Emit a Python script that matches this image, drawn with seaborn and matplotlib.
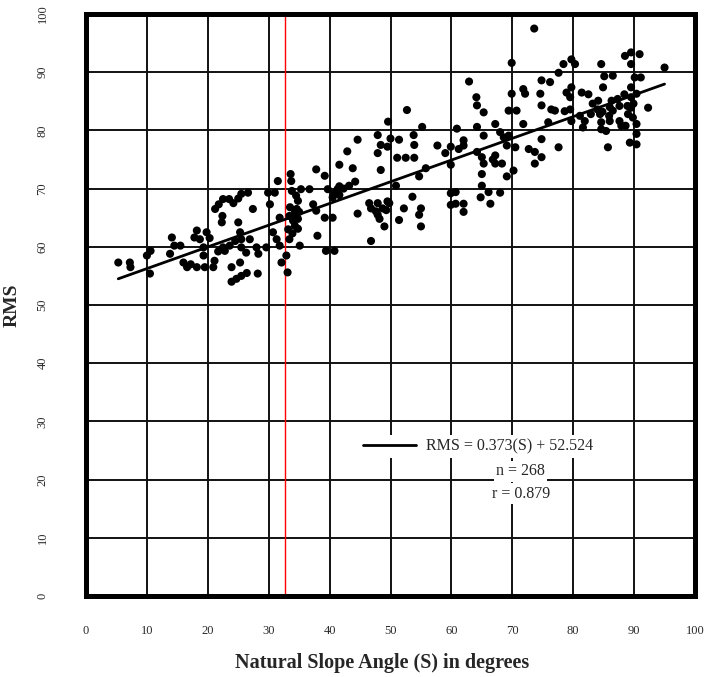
import numpy as np
import pandas as pd
import matplotlib
matplotlib.use("Agg")
import matplotlib.pyplot as plt
import seaborn as sns

# Natural slope angle (degrees) and measured RMS for each sample
slope_angle = [
    5.3, 7.2, 7.3, 10.0, 10.6, 10.5, 14.1, 14.5, 15.5, 13.8, 16.0, 16.6, 18.2, 19.5, 20.9, 21.1,
    17.8, 18.2, 18.7, 19.8, 19.3, 19.3, 21.2, 21.8, 22.5, 22.4, 22.3, 22.5, 23.5, 23.6, 23.9, 23.9,
    24.7, 25.5, 26.4, 28.2, 25.3, 25.0, 25.3, 25.5, 26.9, 25.5, 25.5, 26.6, 25.0, 24.2, 27.4, 28.0,
    28.3, 29.6, 29.9, 31.0, 30.2, 31.5, 30.7, 31.3, 31.8, 32.1, 32.9, 33.1, 31.8, 33.6, 33.7, 33.8,
    34.5, 34.8, 33.4, 34.3, 34.0, 34.8, 34.3, 33.4, 35.1, 34.8, 35.3, 36.7, 37.3, 37.8, 39.2, 40.5,
    38.0, 39.4, 40.8, 37.8, 39.2, 39.7, 40.5, 41.3, 40.8,
    52.7, 49.6, 55.2, 44.6, 47.9, 48.4, 50.0, 51.4, 53.8, 53.9, 47.9, 49.5, 51.1, 52.5, 53.9, 57.7,
    59.0, 59.9, 59.9, 42.9, 41.6, 43.8, 48.4, 55.8, 54.7, 50.9, 41.6, 43.2, 41.6, 46.5, 47.9, 46.8,
    47.6, 48.7, 49.5, 49.8, 44.6, 47.9, 53.6, 52.2, 55.0, 54.7, 51.4, 55.0, 49.0, 46.8, 59.9, 59.9,
    44.2, 42.3,
    69.9, 62.9, 64.1, 64.2, 65.3, 69.4, 70.7, 69.9, 71.8, 72.1, 74.8, 76.2, 74.6, 74.8, 75.9, 71.8,
    67.2, 60.9, 64.2, 65.3, 68.0, 68.6, 69.4, 62.0, 62.0, 69.1, 70.5, 74.8, 72.7, 73.7, 74.8, 73.7,
    64.2, 65.0, 65.3, 67.2, 67.2, 68.3, 65.0, 70.2, 69.1, 65.0, 64.8, 66.1, 68.0, 66.4, 60.7, 60.7,
    62.0, 62.0, 73.6,
    77.6, 85.7, 89.3, 90.4, 92.3, 95.0, 84.6, 77.6, 78.4, 79.7, 80.3, 86.5, 88.5, 89.5, 90.9, 89.5,
    90.1, 84.9, 81.4, 82.5, 78.9, 79.5, 79.5, 79.7, 77.0, 81.1, 81.9, 81.6, 84.1, 84.4, 84.6, 84.6,
    85.4, 86.0, 86.5, 86.3, 87.6, 87.6, 87.9, 89.5, 89.5, 89.5, 89.8, 90.4, 90.4,
    82.9, 84.0, 85.9, 85.1, 88.9, 91.1, 87.3, 88.4, 78.6, 79.7, 76.4,
    33.2, 33.5, 34.6, 33.9, 35.0, 21.7, 22.8, 26.3, 24.5, 17.2, 20.3, 89.0, 89.9, 88.6, 83.2, 86.0,
    84.8, 90.4, 49.3, 48.2, 66.8, 61.2,
]
rms_value = [
    57.3, 57.3, 56.5, 58.5, 59.3, 55.4, 61.6, 60.2, 60.2, 58.8, 57.3, 56.5, 56.5, 56.5, 56.5, 57.6,
    61.6, 62.8, 61.3, 62.5, 59.9, 58.5, 66.5, 67.3, 68.2, 65.3, 64.2, 59.9, 68.2, 60.2, 56.5, 54.0,
    54.5, 55.0, 55.5, 55.4, 57.3, 64.2, 62.5, 61.3, 61.3, 59.9, 69.1, 69.3, 68.3, 67.5, 66.5, 59.9,
    58.8, 59.9, 69.3, 69.3, 67.3, 71.3, 62.5, 61.3, 60.2, 57.3, 58.5, 55.6, 65.0, 72.5, 71.3, 69.6,
    68.8, 67.9, 65.3, 65.9, 64.5, 64.8, 63.6, 61.3, 60.2, 63.1, 69.9, 69.9, 67.3, 66.2, 65.0, 65.0,
    61.9, 59.3, 59.3, 73.3, 72.2, 69.9, 68.5, 69.9, 69.3,
    83.5, 81.5, 80.6, 78.4, 79.2, 77.5, 78.6, 78.4, 79.2, 77.5, 76.1, 77.2, 75.3, 75.3, 75.3, 77.4,
    76.1, 77.2, 74.1, 76.4, 74.1, 73.5, 73.2, 73.5, 72.1, 70.5, 70.4, 70.5, 68.9, 67.5, 67.5, 66.6,
    66.1, 66.6, 67.8, 67.5, 65.7, 65.5, 68.6, 66.6, 66.6, 65.5, 64.6, 63.5, 63.5, 61.0, 69.2, 67.2,
    71.2, 70.0,
    91.6, 88.4, 85.7, 84.3, 83.1, 83.4, 83.4, 86.3, 87.1, 86.3, 88.6, 88.3, 86.3, 84.3, 81.4, 81.1,
    81.1, 80.3, 80.6, 79.1, 79.7, 78.8, 79.1, 78.3, 77.4, 77.4, 77.1, 78.5, 76.8, 76.3, 75.4, 74.3,
    76.3, 75.4, 74.3, 75.7, 74.3, 74.3, 72.5, 73.1, 72.1, 70.5, 68.5, 69.4, 69.3, 67.4, 69.4, 67.4,
    67.4, 66.0, 97.5,
    77.1, 77.1, 77.9, 77.6, 83.9, 90.8, 91.4, 89.9, 91.4, 92.2, 91.4, 89.4, 92.8, 93.4, 93.1, 91.4,
    89.1, 87.4, 86.5, 86.2, 86.5, 85.7, 83.6, 81.6, 83.4, 82.5, 81.6, 80.5, 85.1, 82.8, 81.4, 80.2,
    79.9, 81.6, 83.4, 85.1, 84.2, 81.6, 80.8, 87.4, 85.7, 83.9, 82.2, 81.1, 79.4,
    82.8, 83.6, 82.5, 89.3, 84.2, 89.1, 85.4, 86.2, 83.3, 87.4, 83.6,
    63.0, 66.8, 66.5, 62.3, 66.0, 59.2, 59.3, 59.0, 61.0, 57.0, 61.5, 82.8, 84.6, 80.8, 84.6, 84.0,
    83.2, 86.3, 66.3, 64.8, 75.0, 76.8,
]

# Least-squares fit reported for the samples
fit_slope = 0.373
fit_intercept = 52.524
r_value = 0.879
reference_angle = 32.7
tick_values = list(range(0, 101, 10))

df = pd.DataFrame({"slope": slope_angle, "rms": rms_value})
n_samples = len(df)

sns.set_style("white")
plt.rcParams["font.family"] = ["Liberation Serif", "DejaVu Serif"]

W, H = 705, 677
fig = plt.figure(figsize=(W / 100, H / 100), dpi=100)
ax = fig.add_axes([86 / W, 1 - 596 / H, 609 / W, 582 / H])

ax.set_xlim(0, 100)
ax.set_ylim(0, 100)
ax.set_xticks(tick_values)
ax.set_yticks(tick_values)
ax.grid(True, color="#111111", linewidth=1.4, zorder=0)
ax.set_axisbelow(True)

# reference slope angle
ax.axvline(reference_angle, color="#ff0000", linewidth=1.0, zorder=1.5)

sns.scatterplot(data=df, x="slope", y="rms", color="black", s=34,
                edgecolor="none", linewidth=0, ax=ax, zorder=3, legend=False)

# regression line across the sampled range
fit_x = np.array([df["slope"].min(), df["slope"].max()])
fit_df = pd.DataFrame({"slope": fit_x, "rms": fit_slope * fit_x + fit_intercept})
eq_text = f"RMS = {fit_slope:.3f}(S) + {fit_intercept:.3f}"
sns.lineplot(data=fit_df, x="slope", y="rms", color="black", linewidth=2.0,
             ax=ax, zorder=4, label=eq_text)

leg = ax.legend(loc="center left", bbox_to_anchor=(45.0, 25.7),
                bbox_transform=ax.transData, frameon=True, fancybox=False,
                framealpha=1.0, edgecolor="none", facecolor="white",
                fontsize=11.5, handlelength=3.3, handletextpad=0.6,
                borderpad=0.2, borderaxespad=0.0)
leg.set_zorder(5)

ax.text(71.4, 21.4, f"n = {n_samples}", ha="center", va="center", fontsize=11.5,
        zorder=5, bbox=dict(facecolor="white", edgecolor="none", pad=1.5))
ax.text(71.4, 17.6, f"r = {r_value:.3f}", ha="center", va="center", fontsize=11.5,
        zorder=5, bbox=dict(facecolor="white", edgecolor="none", pad=1.5))

for sp in ax.spines.values():
    sp.set_visible(True)
    sp.set_color("black")
    sp.set_linewidth(3.6)

ax.tick_params(axis="both", length=0, labelsize=9, labelcolor="#2a2a2a")
ax.tick_params(axis="x", pad=21)
ax.tick_params(axis="y", pad=27)
for lbl in ax.get_yticklabels():
    lbl.set_rotation(90)
    lbl.set_va("center")

ax.set_xlabel("Natural Slope Angle (S) in degrees", fontsize=14.5, fontweight="bold")
ax.set_ylabel("RMS", fontsize=14, fontweight="bold")
ax.xaxis.set_label_coords(0.486, -0.098)
ax.yaxis.set_label_coords(-0.108, 0.5)

fig.savefig("out.png", dpi=100)
